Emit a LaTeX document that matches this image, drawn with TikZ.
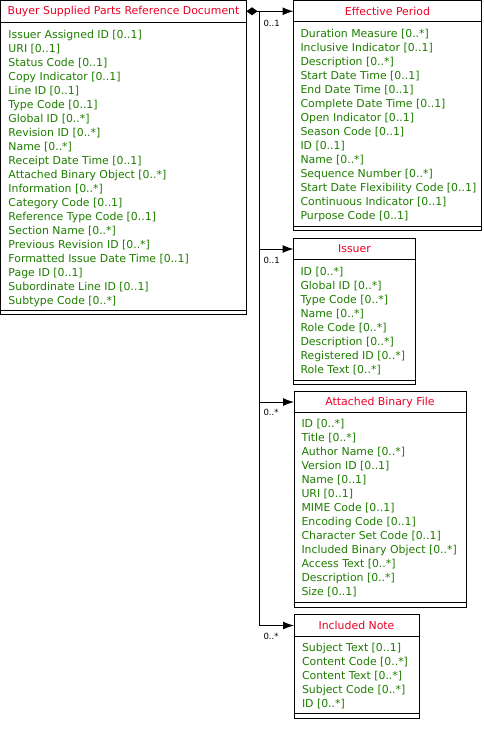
\documentclass[tikz,border=0pt]{standalone}
\usepackage{fontspec}
\setmainfont{DejaVu Sans}
\usetikzlibrary{positioning, arrows.meta}
\definecolor{headred}{RGB}{235,0,35}
\definecolor{attrgreen}{RGB}{30,125,0}

\begin{document}
\begin{tikzpicture}[x=1pt, y=-1pt, line width=1pt, font=\fontsize{10.9}{14}\selectfont,
  classhead/.style={draw, anchor=north west, inner sep=0pt, outer sep=0pt, minimum height=21pt, text=headred},
  classbody/.style={draw, anchor=north west, inner sep=0pt, outer sep=0pt},
  attrs/.style={anchor=north west, inner sep=0pt, align=left, text=attrgreen},
  mult/.style={anchor=north west, inner sep=0pt, font=\fontsize{8.5}{9}\selectfont},
  assoc/.style={-{Latex[length=11pt,width=8pt]}}]

\useasboundingbox (0,0) rectangle (483,732);

% the document
\node[classhead, minimum width=246pt, minimum height=21.5pt] (doc) at (0.5,0.5) {Buyer Supplied Parts Reference Document};
\node[classbody, minimum width=246pt, minimum height=292.5pt, below right=0pt and 0pt of doc.south west] (docbody) {};
\draw ([yshift=4pt]docbody.south west) -- ([yshift=4pt]docbody.south east);
\node[attrs, below right=7.5pt and 7.5pt of doc.south west] (docattr) {Issuer Assigned ID [0..1]\\ URI [0..1]\\ Status Code [0..1]\\ Copy Indicator [0..1]\\ Line ID [0..1]\\ Type Code [0..1]\\ Global ID [0..*]\\ Revision ID [0..*]\\ Name [0..*]\\ Receipt Date Time [0..1]\\ Attached Binary Object [0..*]\\ Information [0..*]\\ Category Code [0..1]\\ Reference Type Code [0..1]\\ Section Name [0..*]\\ Previous Revision ID [0..*]\\ Formatted Issue Date Time [0..1]\\ Page ID [0..1]\\ Subordinate Line ID [0..1]\\ Subtype Code [0..*]};

% effective period
\node[classhead, minimum width=188pt] (eff) at (293.5,0.5) {Effective Period};
\node[classbody, minimum width=188pt, minimum height=209pt, below right=0pt and 0pt of eff.south west] (effbody) {};
\draw ([yshift=4pt]effbody.south west) -- ([yshift=4pt]effbody.south east);
\node[attrs, below right=7.5pt and 6.5pt of eff.south west] (effattr) {Duration Measure [0..*]\\ Inclusive Indicator [0..1]\\ Description [0..*]\\ Start Date Time [0..1]\\ End Date Time [0..1]\\ Complete Date Time [0..1]\\ Open Indicator [0..1]\\ Season Code [0..1]\\ ID [0..1]\\ Name [0..*]\\ Sequence Number [0..*]\\ Start Date Flexibility Code [0..1]\\ Continuous Indicator [0..1]\\ Purpose Code [0..1]};

% issuer
\node[classhead, minimum width=122pt, below right=8pt and 0pt of effbody.south west] (iss) {Issuer};
\node[classbody, minimum width=122pt, minimum height=125pt, below right=0pt and 0pt of iss.south west] (issbody) {};
\draw ([yshift=4pt]issbody.south west) -- ([yshift=4pt]issbody.south east);
\node[attrs, below right=7pt and 6.5pt of iss.south west] (issattr) {ID [0..*]\\ Global ID [0..*]\\ Type Code [0..*]\\ Name [0..*]\\ Role Code [0..*]\\ Description [0..*]\\ Registered ID [0..*]\\ Role Text [0..*]};

% attached binary file
\node[classhead, minimum width=172pt, below right=7pt and 0.5pt of issbody.south west] (att) {Attached Binary File};
\node[classbody, minimum width=172pt, minimum height=195pt, below right=0pt and 0pt of att.south west] (attbody) {};
\draw ([yshift=5pt]attbody.south west) -- ([yshift=5pt]attbody.south east);
\node[attrs, below right=6.5pt and 7pt of att.south west] (attattr) {ID [0..*]\\ Title [0..*]\\ Author Name [0..*]\\ Version ID [0..1]\\ Name [0..1]\\ URI [0..1]\\ MIME Code [0..1]\\ Encoding Code [0..1]\\ Character Set Code [0..1]\\ Included Binary Object [0..*]\\ Access Text [0..*]\\ Description [0..*]\\ Size [0..1]};

% included note
\node[classhead, minimum width=125pt, minimum height=22pt, below right=7pt and 0pt of attbody.south west] (note) {Included Note};
\node[classbody, minimum width=125pt, minimum height=82pt, below right=0pt and 0pt of note.south west] (notebody) {};
\draw ([yshift=5pt]notebody.south west) -- ([yshift=5pt]notebody.south east);
\node[attrs, below right=6pt and 7.5pt of note.south west] (noteattr) {Subject Text [0..1]\\ Content Code [0..*]\\ Content Text [0..*]\\ Subject Code [0..*]\\ ID [0..*]};

% associations
\coordinate[right=13pt of doc.east] (bus);
\draw[{Diamond[length=11pt,width=8pt]}-{Latex[length=11pt,width=8pt]}] (doc.east) -- (doc.east -| eff.west);
\draw (bus) -- (bus |- note.west);
\draw[assoc] (bus |- iss.west) -- (iss.west);
\draw[assoc] (bus |- att.west) -- (att.west);
\draw[assoc] (bus |- note.west) -- (note.west);

\node[mult, below right=8pt and 3.5pt of bus] (effmult) {0..1};
\node[mult, below right=8pt and 3.5pt of bus |- iss.west] (issmult) {0..1};
\node[mult, below right=7pt and 3.5pt of bus |- att.west] (attmult) {0..*};
\node[mult, below right=7pt and 3.5pt of bus |- note.west] (notemult) {0..*};

\end{tikzpicture}
\end{document}
